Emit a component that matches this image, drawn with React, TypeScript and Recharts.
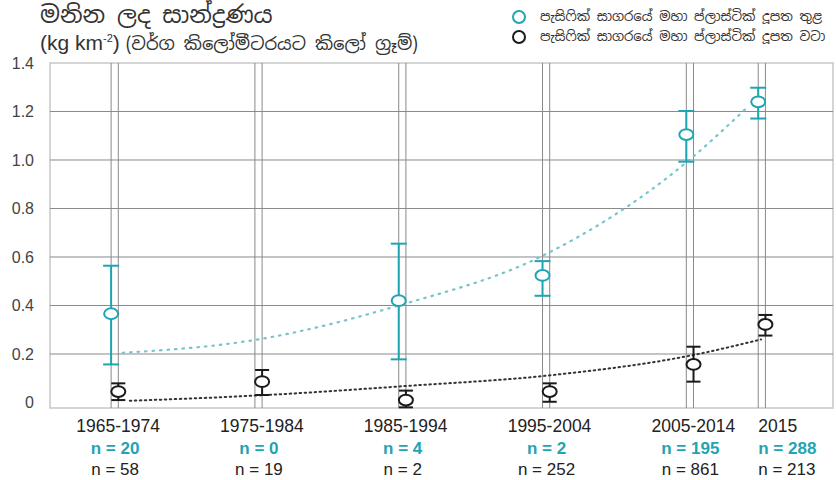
import React from 'react';
import {
  ComposedChart, Line, Scatter, ErrorBar, XAxis, YAxis, ReferenceLine, ReferenceArea,
} from 'recharts';

const TEAL = '#1ea5b3';
const TEAL_LIGHT = '#79c4cc';
const DARK = '#1a1a1a';
const FONT = '"Liberation Sans", Arial, sans-serif';
const SI_FONT = '"Noto Sans Sinhala", "Noto Sans", sans-serif';

// periods on the x axis (mid year of each period)
const periods = ['1965-1974', '1975-1984', '1985-1994', '1995-2004', '2005-2014', '2015'];
const periodYears = [1970, 1980, 1990, 2000, 2010, 2015];
const insideN = [20, 0, 4, 2, 195, 288];
const aroundN = [58, 19, 2, 252, 861, 213];

// measured concentration, inside the patch (teal)
const insideMean = [0.366, null, 0.42, 0.524, 1.105, 1.24];
const insideLow = [0.157, null, 0.178, 0.44, 0.993, 1.171];
const insideHigh = [0.564, null, 0.655, 0.583, 1.202, 1.298];

// measured concentration, around the patch (black)
const aroundMean = [0.045, 0.086, 0.01, 0.045, 0.157, 0.322];
const aroundLow = [0.01, 0.031, -0.02, 0.003, 0.086, 0.276];
const aroundHigh = [0.079, 0.134, 0.049, 0.079, 0.23, 0.361];

// dotted trend curves
const insideTrendX = [1970.8, 1980, 1990, 2000, 2010, 2014.2];
const insideTrendY = [0.205, 0.258, 0.4, 0.605, 0.99, 1.215];
const aroundTrendX = [1971.3, 1980.5, 1990.5, 2000.5, 2010.5, 2015.2];
const aroundTrendY = [0.007, 0.03, 0.068, 0.112, 0.196, 0.26];

const yTicks = [0, 0.2, 0.4, 0.6, 0.8, 1.0, 1.2, 1.4];
const OFFSET = 0.5; // the "around" series sits just right of the "inside" one

const insidePts = periodYears
  .map((x, i) => ({ x, y: insideMean[i], err: insideMean[i] == null ? null : [insideMean[i]! - insideLow[i]!, insideHigh[i]! - insideMean[i]!] }))
  .filter(d => d.y != null);
const aroundPts = periodYears.map((x, i) => ({
  x: x + OFFSET, y: aroundMean[i], err: [aroundMean[i] - aroundLow[i], aroundHigh[i] - aroundMean[i]],
}));
const insideTrend = insideTrendX.map((x, i) => ({ x, y: insideTrendY[i] }));
const aroundTrend = aroundTrendX.map((x, i) => ({ x, y: aroundTrendY[i] }));

const PeriodTick = (props: any) => {
  const { x, y, payload } = props;
  const i = periodYears.indexOf(payload.value);
  const last = i === periodYears.length - 1;
  const anchor = last ? 'start' : 'middle';
  const x1 = last ? x : x + 7;
  const x2 = last ? x : x + 4;
  return (
    <g fontFamily={FONT}>
      <text x={x1} y={y + 24} textAnchor={anchor} fontSize={17.5} fill="#222">{periods[i]}</text>
      <text x={x2} y={y + 46} textAnchor={anchor} fontSize={17} fontWeight="bold" fill={TEAL}>n = {insideN[i]}</text>
      <text x={x2} y={y + 67} textAnchor={anchor} fontSize={17} fill="#222">n = {aroundN[i]}</text>
    </g>
  );
};

const hollow = (color: string) => (p: any) => (
  <ellipse cx={p.cx} cy={p.cy} rx={7} ry={5.4} fill="#fff" stroke={color} strokeWidth={2} />
);

export default function App() {
  return (
    <div style={{ position: 'absolute', left: 0, top: 0, width: 836, height: 480, background: '#fff', fontFamily: FONT }}>
      <div style={{ position: 'absolute', left: 40, top: 0, fontSize: 23.5, lineHeight: '30px', color: '#333', fontFamily: SI_FONT, whiteSpace: 'nowrap' }}>
        මනින ලද සාන්ද්‍රණය
      </div>
      <div style={{ position: 'absolute', left: 40, top: 31, fontSize: 21, color: '#333', whiteSpace: 'nowrap' }}>
        (kg km<sup style={{ fontSize: 11 }}>-2</sup>){' '}
        <span style={{ fontSize: 18, fontFamily: SI_FONT }}>(වර්ග කිලෝමීටරයට කිලෝ ග්‍රෑම්)</span>
      </div>
      <div style={{ position: 'absolute', left: 512, top: 7, fontSize: 13.3, color: '#333', fontFamily: SI_FONT, lineHeight: '20px', whiteSpace: 'nowrap' }}>
        <div style={{ display: 'flex', alignItems: 'center' }}>
          <span style={{ width: 10, height: 10, borderRadius: 7, border: `2px solid ${TEAL}`, marginRight: 14 }} />
          පැසිෆික් සාගරයේ මහා ප්ලාස්ටික් දූපත තුළ
        </div>
        <div style={{ display: 'flex', alignItems: 'center' }}>
          <span style={{ width: 10, height: 10, borderRadius: 7, border: `2px solid ${DARK}`, marginRight: 14 }} />
          පැසිෆික් සාගරයේ මහා ප්ලාස්ටික් දූපත වටා
        </div>
      </div>
      <ComposedChart width={836} height={480} margin={{ top: 63, right: 3, bottom: 0, left: 0 }}>
        <XAxis
          type="number" dataKey="x" domain={[1965.75, 2020.2]} allowDataOverflow
          ticks={periodYears} tick={<PeriodTick />} interval={0}
          axisLine={false} tickLine={false} tickSize={0} tickMargin={0} height={72}
        />
        <YAxis
          type="number" domain={[-0.0227, 1.4]} allowDataOverflow ticks={yTicks}
          tickFormatter={(v: number) => (v === 0 ? '0' : v.toFixed(1))}
          axisLine={false} tickLine={false} tickSize={0} tickMargin={16} width={50}
          tick={{ fontSize: 16, fill: '#444', fontFamily: FONT }}
        />
        <ReferenceArea x1={1965.75} x2={2020.2} y1={-0.0227} y2={1.4} fill="none" stroke="#c8c8c8" strokeWidth={1.5} />
        {yTicks.filter(v => v > 0 && v < 1.4).map(v => (
          <ReferenceLine key={'h' + v} y={v} stroke="#8a8a8a" strokeWidth={1} />
        ))}
        {periodYears.map(v => (
          <ReferenceLine key={'a' + v} x={v} stroke="#8a8a8a" strokeWidth={1} />
        ))}
        {periodYears.map(v => (
          <ReferenceLine key={'b' + v} x={v + OFFSET} stroke="#8a8a8a" strokeWidth={1} />
        ))}
        <Line data={insideTrend} dataKey="y" type="monotone" stroke={TEAL_LIGHT} strokeWidth={2.2}
          strokeDasharray="1.5 6" strokeLinecap="round" dot={false} isAnimationActive={false} />
        <Line data={aroundTrend} dataKey="y" type="monotone" stroke="#333" strokeWidth={2}
          strokeDasharray="1.5 3.5" strokeLinecap="round" dot={false} isAnimationActive={false} />
        <Scatter data={insidePts} dataKey="y" shape={hollow(TEAL)} isAnimationActive={false}>
          <ErrorBar dataKey="err" direction="y" width={8} stroke={TEAL} strokeWidth={2} />
        </Scatter>
        <Scatter data={aroundPts} dataKey="y" shape={hollow(DARK)} isAnimationActive={false}>
          <ErrorBar dataKey="err" direction="y" width={7} stroke={DARK} strokeWidth={2} />
        </Scatter>
      </ComposedChart>
    </div>
  );
}
